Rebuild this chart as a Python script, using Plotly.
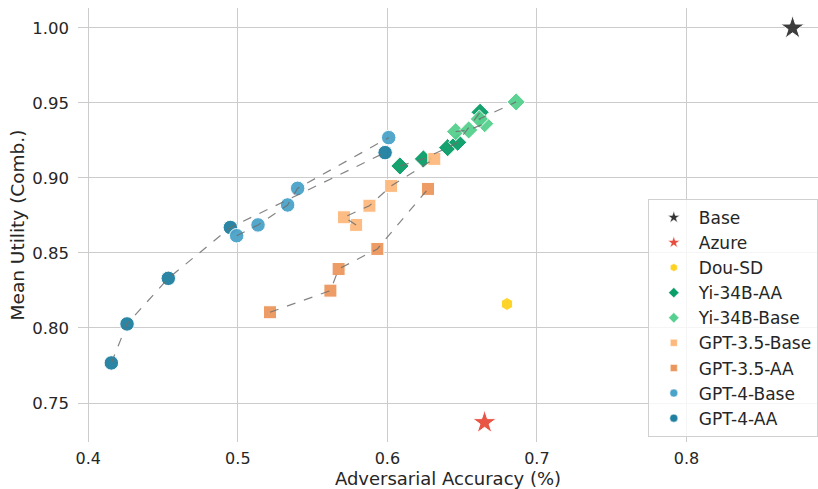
import plotly.graph_objects as go

# Adversarial accuracy (x) vs. mean utility (y) for each system
base_x = [0.871]
base_y = [1.000]
azure_x = [0.665]
azure_y = [0.737]
dou_x = [0.680]
dou_y = [0.816]

yi_aa_x = [0.6084, 0.6241, 0.6403, 0.6470, 0.6620]
yi_aa_y = [0.9080, 0.9127, 0.9202, 0.9238, 0.9438]
yi_base_x = [0.6457, 0.6544, 0.6651, 0.6615, 0.6861]
yi_base_y = [0.9309, 0.9320, 0.9362, 0.9393, 0.9507]

gpt35_base_x = [0.5791, 0.5710, 0.5880, 0.6025, 0.6314]
gpt35_base_y = [0.8687, 0.8738, 0.8815, 0.8947, 0.9127]
gpt35_aa_x = [0.5215, 0.5619, 0.5674, 0.5933, 0.6272]
gpt35_aa_y = [0.8105, 0.8249, 0.8393, 0.8527, 0.8927]

gpt4_base_x = [0.4992, 0.5135, 0.5333, 0.5400, 0.6009]
gpt4_base_y = [0.8615, 0.8687, 0.8820, 0.8931, 0.9269]
gpt4_aa_x = [0.4154, 0.4259, 0.4535, 0.4950, 0.5985]
gpt4_aa_y = [0.7767, 0.8027, 0.8331, 0.8670, 0.9169]

x_ticks = [0.4, 0.5, 0.6, 0.7, 0.8]
y_ticks = [0.75, 0.80, 0.85, 0.90, 0.95, 1.00]

# name, x, y, symbol, colour, marker size, legend size
series = [
    ("Base", base_x, base_y, "star", "#333333", 18, 9),
    ("Azure", azure_x, azure_y, "star", "#e74c3c", 18, 9),
    ("Dou-SD", dou_x, dou_y, "hexagon", "#ffd21f", 13, 8),
    ("Yi-34B-AA", yi_aa_x, yi_aa_y, "diamond", "#0a9e68", 14, 8),
    ("Yi-34B-Base", yi_base_x, yi_base_y, "diamond", "#55d08e", 14, 8),
    ("GPT-3.5-Base", gpt35_base_x, gpt35_base_y, "square", "#fdb97d", 13, 7),
    ("GPT-3.5-AA", gpt35_aa_x, gpt35_aa_y, "square", "#eb975c", 13, 7),
    ("GPT-4-Base", gpt4_base_x, gpt4_base_y, "circle", "#4aa3c9", 14.5, 8),
    ("GPT-4-AA", gpt4_aa_x, gpt4_aa_y, "circle", "#1f80a0", 14.5, 8),
]
trend_names = {"Yi-34B-AA", "Yi-34B-Base", "GPT-3.5-Base", "GPT-3.5-AA", "GPT-4-Base", "GPT-4-AA"}
draw_order = ["Base", "Azure", "Dou-SD", "Yi-34B-AA", "Yi-34B-Base", "GPT-3.5-Base",
              "GPT-3.5-AA", "GPT-4-AA", "GPT-4-Base"]

fig = go.Figure()
lookup = {s[0]: s for s in series}

# scatter markers
for name in draw_order:
    _, xs, ys, sym, col, size, _ = lookup[name]
    fig.add_trace(go.Scatter(
        x=xs, y=ys, mode="markers", showlegend=False, hoverinfo="skip",
        marker=dict(symbol=sym, color=col, size=size, opacity=0.95,
                    line=dict(color="white", width=1)),
    ))

# dashed connectors drawn over the markers
for name, xs, ys, *_ in series:
    if name in trend_names:
        fig.add_trace(go.Scatter(
            x=xs, y=ys, mode="lines", showlegend=False, hoverinfo="skip",
            line=dict(color="rgba(110,110,110,0.85)", width=1.2, dash="dash"),
        ))

# legend entries with small symbols
for name, _, _, sym, col, _, lsize in series:
    fig.add_trace(go.Scatter(
        x=[None], y=[None], mode="markers", name=name,
        marker=dict(symbol=sym, color=col, size=lsize, line=dict(color="white", width=0.5)),
    ))

text_col = "#262626"
fig.update_layout(
    width=818, height=489,
    margin=dict(l=78, r=0, t=8, b=47),
    paper_bgcolor="white", plot_bgcolor="white",
    font=dict(family="DejaVu Sans", color=text_col, size=16),
    legend=dict(
        x=0.770, y=0.012, xanchor="left", yanchor="bottom",
        bgcolor="rgba(255,255,255,0.8)", bordercolor="#d0d0d0", borderwidth=1,
        font=dict(size=17, color=text_col), itemwidth=40, tracegroupgap=0,
    ),
    xaxis=dict(
        range=[0.3931, 0.888], tickvals=x_ticks, ticktext=[f"{v:.1f}" for v in x_ticks],
        showgrid=True, gridcolor="#cccccc", gridwidth=1, zeroline=False, showline=False,
        ticks="", ticklabelstandoff=5, tickfont=dict(size=16),
        title=dict(text="Adversarial Accuracy (%)", font=dict(size=18), standoff=5),
    ),
    yaxis=dict(
        range=[0.724, 1.0133], tickvals=y_ticks, ticktext=[f"{v:.2f}" for v in y_ticks],
        showgrid=True, gridcolor="#cccccc", gridwidth=1, zeroline=False, showline=False,
        ticks="", ticklabelstandoff=8, tickfont=dict(size=16.5),
        title=dict(text="Mean Utility (Comb.)", font=dict(size=18.5), standoff=2),
    ),
)

fig.write_html("out.html")
